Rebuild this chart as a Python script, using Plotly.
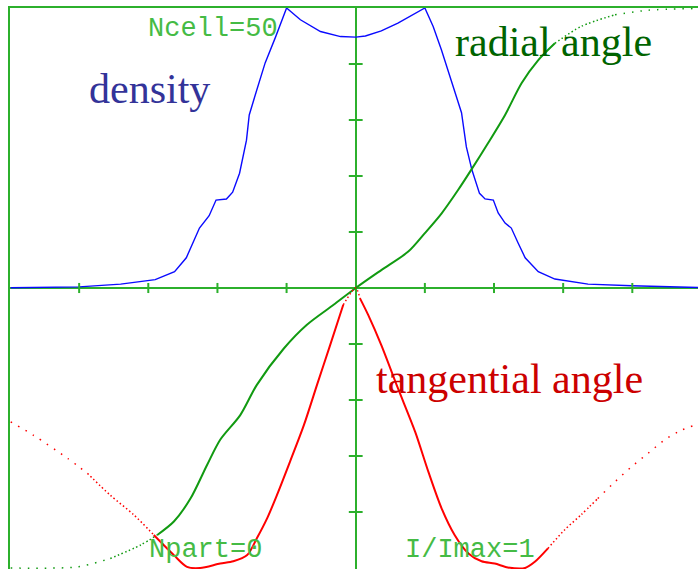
import plotly.graph_objects as go

# ---- data -------------------------------------------------------------
density_x = [-4.99, -4.00, -3.40, -2.90, -2.62, -2.45, -2.26, -2.12, -2.02, -1.87,
             -1.78, -1.68, -1.58, -1.54, -1.44, -1.31, -1.16, -1.09, -1.00, -0.80,
             -0.51, -0.22, 0.00, 0.14, 0.37, 0.61, 1.00, 1.12, 1.24, 1.38,
             1.53, 1.60, 1.68, 1.79, 1.87, 1.99, 2.06, 2.16, 2.25, 2.35,
             2.45, 2.64, 2.88, 3.36, 3.99, 4.95]
density_y = [0.005, 0.02, 0.07, 0.15, 0.29, 0.54, 1.07, 1.29, 1.57, 1.59,
             1.71, 2.05, 2.64, 3.09, 3.50, 4.02, 4.48, 4.70, 5.00, 4.79,
             4.58, 4.49, 4.48, 4.50, 4.59, 4.73, 5.00, 4.67, 4.25, 3.71,
             3.13, 2.52, 2.11, 1.69, 1.59, 1.57, 1.34, 1.16, 1.07, 0.80,
             0.54, 0.29, 0.16, 0.07, 0.04, 0.01]

radial_x = [-4.99, -4.03, -3.55, -3.11, -2.87, -2.63, -2.39, -2.15, -1.96, -1.67,
            -1.43, -1.04, -0.71, -0.32, 0.00, 0.37, 0.76, 1.00, 1.24, 1.48,
            1.67, 1.91, 2.16, 2.40, 2.64, 2.88, 3.26, 3.75, 4.23, 4.90]
radial_y = [-5.00, -4.98, -4.83, -4.59, -4.41, -4.17, -3.76, -3.16, -2.71, -2.27,
            -1.73, -1.08, -0.66, -0.30, 0.00, 0.32, 0.65, 0.98, 1.33, 1.75,
            2.11, 2.58, 3.09, 3.66, 4.07, 4.37, 4.67, 4.88, 4.96, 4.99]

tang_x = [-4.99, -4.66, -4.17, -3.88, -3.55, -3.21, -2.92, -2.63, -2.44, -2.25,
          -1.96, -1.77, -1.57, -1.43, -1.28, -1.14, -0.95, -0.75, -0.56, -0.37,
          -0.18, 0.00, 0.06, 0.18, 0.37, 0.61, 0.86, 1.05, 1.24, 1.43,
          1.63, 1.82, 2.01, 2.20, 2.45, 2.59, 2.78, 3.02, 3.26, 3.50,
          3.75, 3.99, 4.23, 4.47, 4.71, 4.90]
tang_y = [-2.39, -2.63, -3.04, -3.31, -3.70, -4.05, -4.41, -4.77, -4.98, -5.00,
          -4.92, -4.88, -4.77, -4.47, -4.11, -3.70, -3.10, -2.45, -1.73, -1.02,
          -0.30, 0.00, -0.18, -0.48, -1.02, -1.79, -2.57, -3.28, -3.93, -4.41,
          -4.74, -4.88, -4.92, -4.99, -5.00, -4.89, -4.65, -4.32, -4.05, -3.76,
          -3.46, -3.19, -2.95, -2.71, -2.54, -2.45]

x_ticks = [-4, -3, -2, -1, 1, 2, 3, 4]
y_ticks = [-4, -3, -2, -1, 1, 2, 3, 4]

# ---- styling ----------------------------------------------------------
AXIS_GREEN = "#2cb02c"
LABEL_GREEN = "#45bb45"
SPARSE = "1.5px,7px"
MEDIUM = "1.5px,2.5px"

# (x from, x to, dash) bands; sparse particle tails are drawn dotted
radial_bands = [(-4.99, -3.55, SPARSE), (-3.55, -2.87, MEDIUM), (-2.87, 2.88, "solid"),
                (2.88, 3.75, MEDIUM), (3.75, 4.90, SPARSE)]
tang_bands = [(-4.99, -3.88, SPARSE), (-3.88, -2.92, MEDIUM), (-2.92, -0.18, "solid"),
              (-0.18, 0.06, MEDIUM), (0.06, 2.78, "solid"), (2.78, 3.50, MEDIUM),
              (3.50, 4.90, SPARSE)]


def banded(xs, ys, bands, color, width):
    out = []
    for lo, hi, dash in bands:
        sx = [x for x in xs if lo <= x <= hi]
        sy = [y for x, y in zip(xs, ys) if lo <= x <= hi]
        w = width if dash == "solid" else 1.5
        out.append(go.Scatter(x=sx, y=sy, mode="lines", showlegend=False,
                              hoverinfo="skip",
                              line=dict(color=color, width=w, dash=dash,
                                        shape="spline", smoothing=0.8)))
    return out


fig = go.Figure()
fig.add_trace(go.Scatter(x=density_x, y=density_y, mode="lines", showlegend=False,
                         line=dict(color="#0a0aff", width=1.4)))
for tr in banded(radial_x, radial_y, radial_bands, "#119a11", 2.0):
    fig.add_trace(tr)
for tr in banded(tang_x, tang_y, tang_bands, "#ff0000", 2.0):
    fig.add_trace(tr)

# tick marks crossing the central axes
shapes = []
for t in x_ticks:
    shapes.append(dict(type="line", xref="x", yref="y", x0=t, x1=t, y0=-0.09, y1=0.09,
                       line=dict(color=AXIS_GREEN, width=2)))
for t in y_ticks:
    shapes.append(dict(type="line", xref="x", yref="y", x0=-0.1, x1=0.1, y0=t, y1=t,
                       line=dict(color=AXIS_GREEN, width=2)))

mono = dict(family="Liberation Mono", size=27, color=LABEL_GREEN)
serif = "Liberation Serif"
annotations = [
    dict(text="Ncell=50", x=-3.04, y=4.63, xanchor="left", yanchor="middle", font=mono),
    dict(text="Npart=0", x=-3.02, y=-4.68, xanchor="left", yanchor="middle", font=mono),
    dict(text="I/Imax=1", x=0.69, y=-4.68, xanchor="left", yanchor="middle", font=mono),
    dict(text="density", x=-3.89, y=3.55, xanchor="left", yanchor="middle",
         font=dict(family=serif, size=42, color="#333399")),
    dict(text="radial angle", x=1.40, y=4.39, xanchor="left", yanchor="middle",
         font=dict(family=serif, size=42, color="#006400")),
    dict(text="tangential angle", x=0.27, y=-1.63, xanchor="left", yanchor="middle",
         font=dict(family=serif, size=42, color="#cc0000")),
]
for a in annotations:
    a.update(xref="x", yref="y", showarrow=False)

axis_common = dict(showgrid=False, showticklabels=False, ticks="",
                   zeroline=True, zerolinecolor=AXIS_GREEN, zerolinewidth=2,
                   showline=True, linecolor=AXIS_GREEN, linewidth=2, mirror=False)

fig.update_layout(
    width=698, height=569,
    margin=dict(l=10, r=0, t=8, b=0),
    plot_bgcolor="white", paper_bgcolor="white",
    xaxis=dict(range=[-5, 4.95], side="top", **axis_common),
    yaxis=dict(range=[-5.018, 5], side="left", **axis_common),
    shapes=shapes,
    annotations=annotations,
)

fig.write_html("out.html")
